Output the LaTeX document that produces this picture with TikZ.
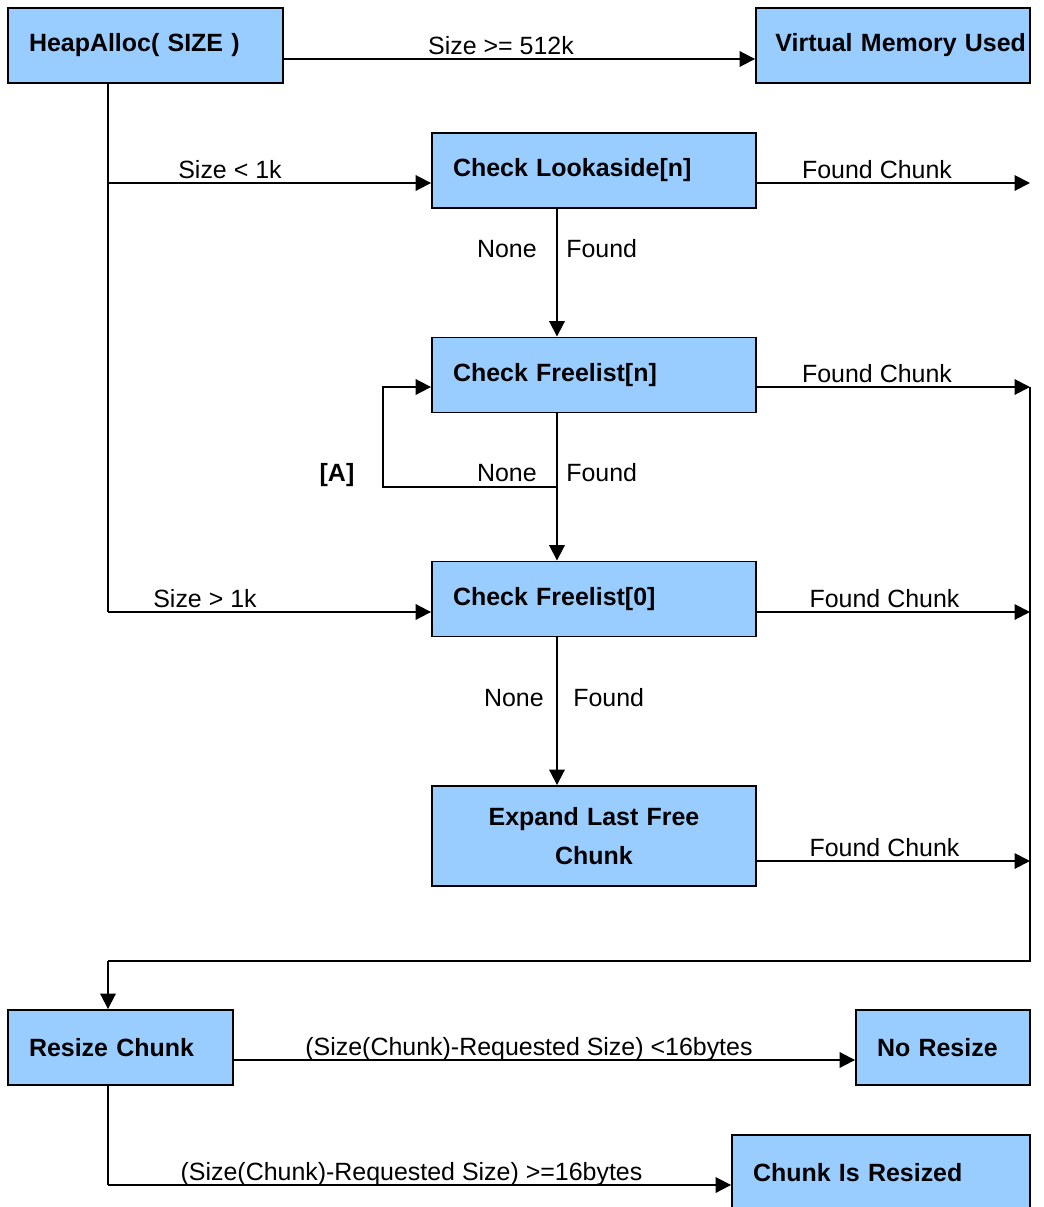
\documentclass[tikz,border=0pt]{standalone}
\usepackage{fontspec}
\setmainfont{Liberation Sans}
\usetikzlibrary{arrows.meta}
\definecolor{heapblue}{RGB}{153,204,255}
\tikzset{block/.style={draw, fill=heapblue, line width=1.1pt, minimum height=1.5cm, inner xsep=0.42cm, font=\bfseries\fontsize{14.2}{22}\selectfont, align=left}}
\tikzset{cond/.style={font=\fontsize{14.2}{17}\selectfont, inner sep=0pt, anchor=base}}
\tikzset{wire/.style={line width=1.1pt}}
\tikzset{flow/.style={wire, -{Triangle[length=0.31cm,width=0.31cm]}}}

\begin{document}
\begin{tikzpicture}[x=0.02cm, y=-0.02cm]
	\useasboundingbox (0,0) rectangle (1044,1207);

	% Boxes
	\node[block, text width=4.66cm] (heap) at (145.5,45.5) {HeapAlloc( SIZE )};
	\node[block, text width=5.32cm, inner xsep=0.08cm, align=right] (vmu) at (893,45.5) {Virtual Memory Used};
	\node[block, text width=5.64cm] (look) at (594,170.5) {Check Lookaside[n]};
	\node[block, text width=5.64cm] (fln) at (594,375) {Check Freelist[n]};
	\node[block, text width=5.64cm] (fl0) at (594,599) {Check Freelist[0]};
	\node[block, text width=5.64cm, align=center, minimum height=2cm] (expand) at (594,836) {Expand Last Free\\Chunk};
	\node[block, text width=3.66cm] (resize) at (120.5,1047.5) {Resize Chunk};
	\node[block, text width=2.64cm] (nores) at (943,1047.5) {No Resize};
	\node[block, text width=5.12cm] (resized) at (881,1172.5) {Chunk Is Resized};

	% Free ends and bends
	\coordinate (spine top) at (108,83);
	\coordinate (small) at (108,183);
	\coordinate (large) at (108,612);
	\coordinate (out look) at (1030,183);
	\coordinate (tap) at (557,487);
	\coordinate (loop low) at (383,487);
	\coordinate (loop high) at (383,387);
	\coordinate (rail top) at (1030,387);
	\coordinate (rail fl0) at (1030,612);
	\coordinate (rail exp) at (1030,861);
	\coordinate (rail low) at (1030,961);
	\coordinate (back) at (108,961);
	\coordinate (split) at (108,1185);

	% Horizontals
	\draw[flow] ([yshift=-0.27cm]heap.east) -- ([yshift=-0.27cm]vmu.west);
	\draw[flow] (small) -- ([yshift=-0.25cm]look.west);
	\draw[flow] (large) -- ([yshift=-0.26cm]fl0.west);
	\draw[flow] ([yshift=-0.25cm]look.east) -- (out look);
	\draw[flow] ([yshift=-0.24cm]fln.east) -- (rail top);
	\draw[flow] ([yshift=-0.26cm]fl0.east) -- (rail fl0);
	\draw[flow] ([yshift=-0.5cm]expand.east) -- (rail exp);
	\draw[flow] ([yshift=-0.25cm]resize.east) -- ([yshift=-0.25cm]nores.west);
	\draw[flow] (split) -- ([yshift=-0.25cm]resized.west);

	% Verticals
	\draw[wire] (spine top) -- (large);
	\draw[flow] (look.south -| tap) -- (fln.north -| tap);
	\draw[flow] (fln.south -| tap) -- (fl0.north -| tap);
	\draw[flow] (fl0.south -| tap) -- (expand.north -| tap);
	\draw[wire] (rail top) -- (rail low) -- (back);
	\draw[flow] (back) -- (resize.north -| back);
	\draw[wire] (resize.south -| split) -- (split);

	% Retry loop
	\draw[flow] (tap) -- (loop low) -- (loop high) -- (fln.west |- loop high);

	% Labels
	\node[cond] (c512) at (501,54) {Size >= 512k};
	\node[cond] (c1ks) at (230,178) {Size < 1k};
	\node[cond] (c1kl) at (205,607) {Size > 1k};
	\node[cond] (got1) at (877,178) {Found Chunk};
	\node[cond] (got2) at (877,382) {Found Chunk};
	\node[cond] (got3) at (884.5,607) {Found Chunk};
	\node[cond] (got4) at (884.5,856) {Found Chunk};
	\node[cond, anchor=base east] (none1) at (537,257) {None};
	\node[cond, anchor=base west] (found1) at (566,257) {Found};
	\node[cond, anchor=base east] (none2) at (537,481) {None};
	\node[cond, anchor=base west] (found2) at (566,481) {Found};
	\node[cond, anchor=base east] (none3) at (544,706) {None};
	\node[cond, anchor=base west] (found3) at (573,706) {Found};
	\node[cond, font=\bfseries\fontsize{14.2}{17}\selectfont] (tagA) at (337,481) {[A]};
	\node[cond] (small rest) at (529,1055) {(Size(Chunk)-Requested Size) <16bytes};
	\node[cond] (big rest) at (411.5,1180) {(Size(Chunk)-Requested Size) >=16bytes};
\end{tikzpicture}
\end{document}
